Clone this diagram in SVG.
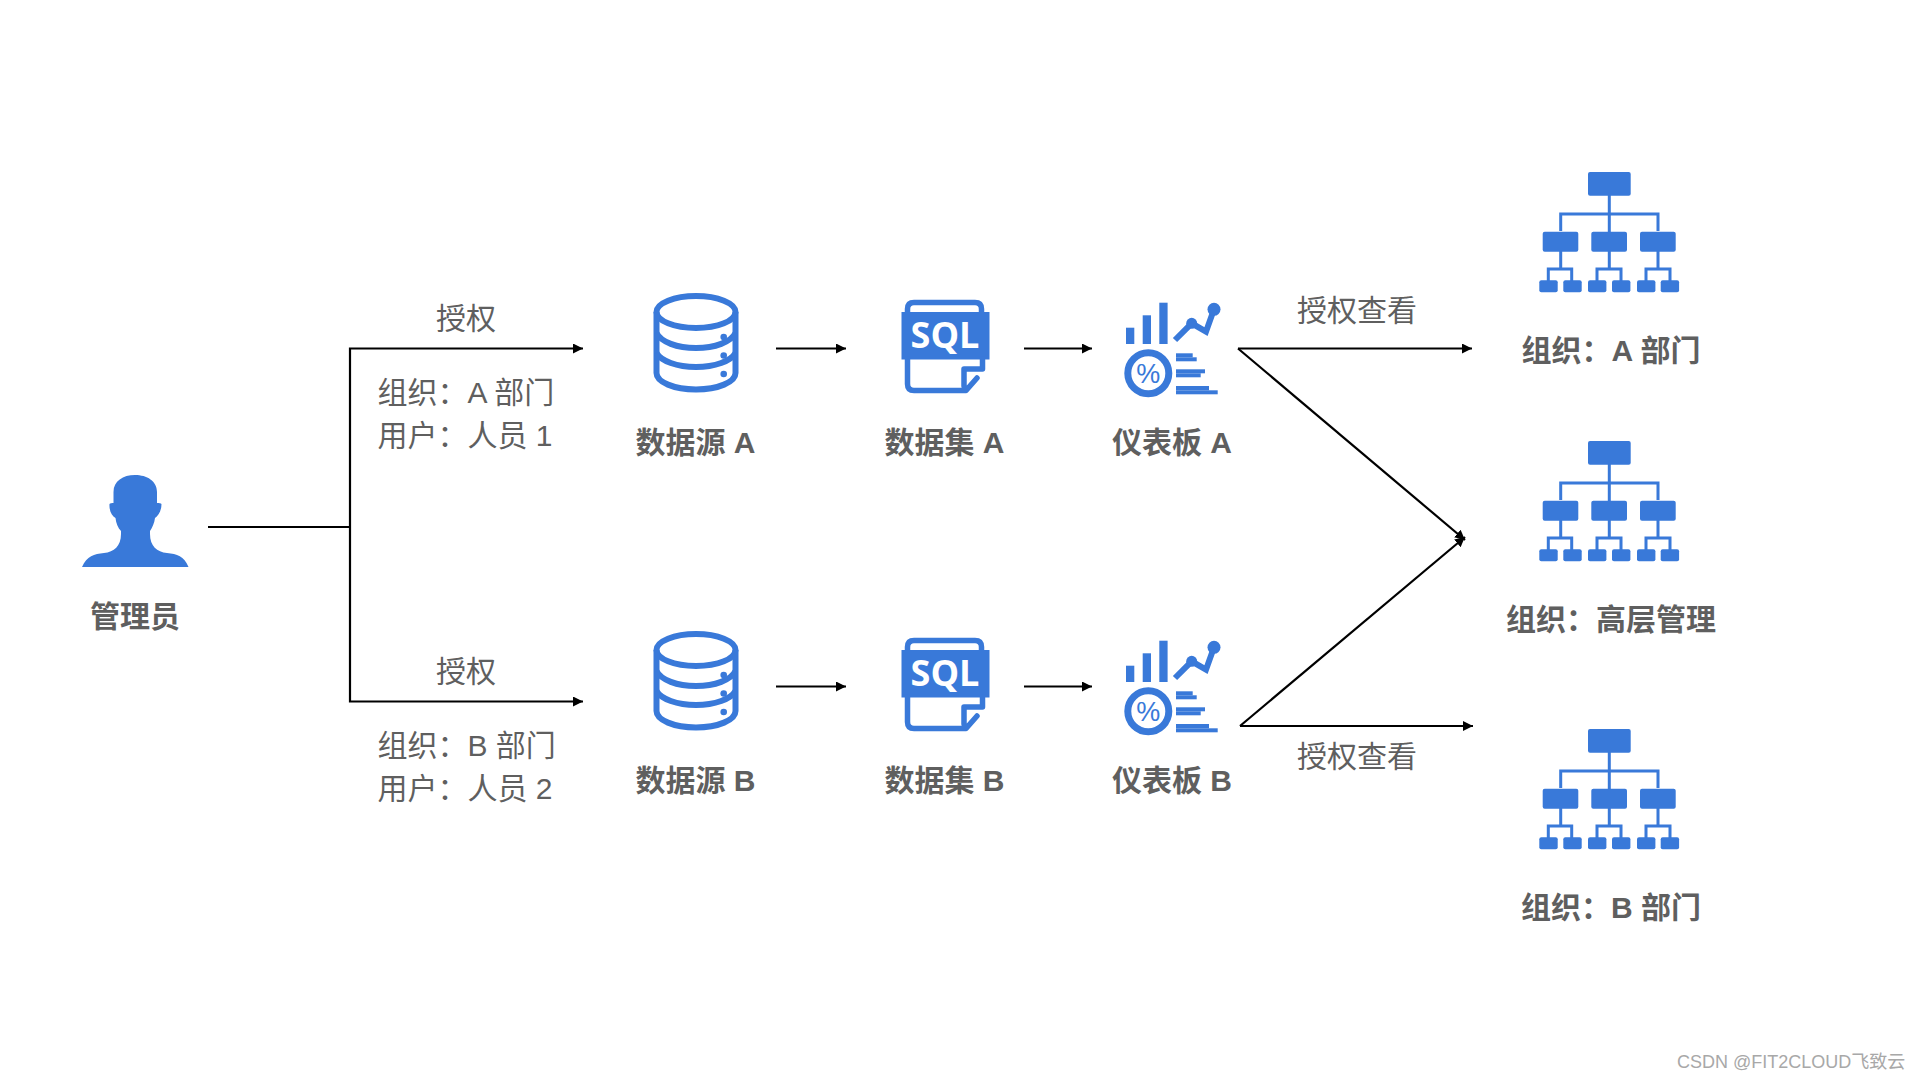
<svg xmlns="http://www.w3.org/2000/svg" width="1920" height="1080" viewBox="0 0 1920 1080">
<style>
text{font-family:"Liberation Sans","Noto Sans CJK SC",sans-serif;fill:#5f5f5f;font-size:30px}
.b{font-weight:700;text-anchor:middle}
.m{text-anchor:middle}
.c{fill:none;stroke:#000;stroke-width:2.2;marker-end:url(#arr)}
.n{fill:none;stroke:#000;stroke-width:2.2}
.f{fill:#3979d9}
.s{fill:none;stroke:#3979d9}
.wm{font-family:"Liberation Sans","Noto Sans CJK SC",sans-serif;font-size:18px;fill:#a8a8a8}
</style>
<defs>
<marker id="arr" markerUnits="userSpaceOnUse" markerWidth="11" markerHeight="10" refX="10" refY="5" orient="auto"><path d="M0 0L10 5L0 10Z" fill="#000"/></marker>
<g id="db">
<g class="s" stroke-width="6">
<ellipse cx="696" cy="312" rx="39.500" ry="16"/>
<path d="M656.500 312V373C656.500 382 674 389.500 696 389.500C718 389.500 735.500 382 735.500 373V312"/>
<path d="M656.500 333C661 342 677 348 696 348C715 348 731 342 735.500 333"/>
<path d="M656.500 353C661 361 677 367 696 367C715 367 731 361 735.500 353"/>
</g>
<circle class="f" cx="723.700" cy="337" r="3.300"/><circle class="f" cx="723.700" cy="355.500" r="3.300"/><circle class="f" cx="723.700" cy="374" r="3.300"/>
</g>
<g id="sql">
<path class="s" stroke-width="5.500" d="M907.500 312V309Q907.500 302.500 914 302.500H975Q981.500 302.500 981.500 309V312"/>
<rect class="f" x="901.500" y="312" width="88" height="47.500"/>
<path class="s" stroke-width="5.500" stroke-linecap="round" stroke-linejoin="round" d="M907.500 359V384Q907.500 390.500 914 390.500H966L977 378M982.500 359V369H964V386"/>
<text x="945" y="348" text-anchor="middle" style="font-family:'Open Sans','Liberation Sans',sans-serif;font-weight:700;font-size:36px;fill:#fff">SQL</text>
</g>
<g id="dash">
<rect class="f" x="1126" y="327.700" width="8.300" height="16.300"/><rect class="f" x="1142.700" y="315.300" width="8.300" height="28.700"/><rect class="f" x="1159.300" y="302.700" width="8.300" height="41.300"/>
<path class="s" stroke-width="6" d="M1175 340L1191.700 323.300L1206 331.700L1214 309.300"/>
<circle class="f" cx="1191.700" cy="323.300" r="5.500"/><circle class="f" cx="1214" cy="309.300" r="6.500"/>
<circle class="s" stroke-width="7" cx="1148.300" cy="373.300" r="20.500"/>
<text x="1148.300" y="383" text-anchor="middle" style="font-family:'Liberation Sans',sans-serif;font-size:27px;fill:#3979d9">%</text>
<rect class="f" x="1176" y="353.300" width="16.700" height="4"/><rect class="f" x="1176" y="357.300" width="20.700" height="4"/>
<rect class="f" x="1176" y="369.300" width="29" height="4"/><rect class="f" x="1176" y="373.300" width="24.700" height="4"/>
<rect class="f" x="1176" y="386" width="33" height="4.300"/><rect class="f" x="1176" y="390.300" width="41.700" height="4"/>
</g>
<g id="org">
<path class="s" stroke-width="3" d="M1609.300 195V232M1560.700 231V214H1658V231M1560.700 251V269M1609.300 251V269M1658 251V269M1548.300 281V269H1571.700V281M1597 281V269H1621V281M1646 281V269H1670V281"/>
<rect class="f" x="1588" y="172" width="42.700" height="23.700" rx="2"/>
<rect class="f" x="1542.700" y="231.700" width="35.600" height="20" rx="2"/><rect class="f" x="1591.300" y="231.700" width="35.700" height="20" rx="2"/><rect class="f" x="1640" y="231.700" width="35.700" height="20" rx="2"/>
<rect class="f" x="1539.300" y="280.300" width="18.400" height="12" rx="2"/><rect class="f" x="1563.300" y="280.300" width="18.400" height="12" rx="2"/>
<rect class="f" x="1588" y="280.300" width="18.400" height="12" rx="2"/><rect class="f" x="1612" y="280.300" width="18.400" height="12" rx="2"/>
<rect class="f" x="1637" y="280.300" width="18.400" height="12" rx="2"/><rect class="f" x="1660.700" y="280.300" width="18.400" height="12" rx="2"/>
</g>
</defs>
<rect width="1920" height="1080" fill="#fff"/>
<g id="connectors">
<path class="n" d="M208 527H350"/>
<path class="c" d="M350 527V348.500H583"/>
<path class="c" d="M350 527V701.500H583"/>
<path class="c" d="M776 348.500H846"/>
<path class="c" d="M1024 348.500H1092"/>
<path class="c" d="M776 686.500H846"/>
<path class="c" d="M1024 686.500H1092"/>
<path class="c" d="M1238 348.500H1472"/>
<path class="c" d="M1238 348.500L1465 540"/>
<path class="c" d="M1240 726H1473"/>
<path class="c" d="M1240 726L1465 537"/>
</g>
<g id="admin">
<path class="f" d="M82 567C87 556 94 554 104 553C114 552 121 546 121 534V531C118 528 116 523 115.500 518C112 516 109 511 109.500 504C110 503 112 503 113.500 503V492C113.500 481 123 475 135 475C147 475 157 481 157 492V503C159 503 161 503 161.500 504C161.500 511 158 516 155 518C154.500 523 152 528 150 531V534C150 546 157 552 167 553C177 554 184 556 188.500 567Z"/>
<text class="b" x="135" y="627">管理员</text>
</g>
<g id="grant-a"><text class="m" x="466" y="329">授权</text><text x="377.500" y="403">组织：A 部门</text><text x="377.500" y="446">用户：人员 1</text></g>
<g id="grant-b"><text class="m" x="466" y="682">授权</text><text x="377.500" y="756">组织：B 部门</text><text x="377.500" y="799">用户：人员 2</text></g>
<g id="source-a"><use href="#db"/><text class="b" x="695.500" y="453">数据源 A</text></g>
<g id="dataset-a"><use href="#sql"/><text class="b" x="944.500" y="453">数据集 A</text></g>
<g id="board-a"><use href="#dash"/><text class="b" x="1172" y="453">仪表板 A</text></g>
<g id="source-b"><use href="#db" y="338"/><text class="b" x="695.500" y="791">数据源 B</text></g>
<g id="dataset-b"><use href="#sql" y="338"/><text class="b" x="944.500" y="791">数据集 B</text></g>
<g id="board-b"><use href="#dash" y="338"/><text class="b" x="1172" y="791">仪表板 B</text></g>
<g id="view-a"><text class="m" x="1357" y="321">授权查看</text></g>
<g id="view-b"><text class="m" x="1357" y="767">授权查看</text></g>
<g id="org-a"><use href="#org"/><text class="b" x="1611" y="361">组织：A 部门</text></g>
<g id="org-top"><use href="#org" y="269"/><text class="b" x="1611" y="630">组织：高层管理</text></g>
<g id="org-b"><use href="#org" y="557"/><text class="b" x="1611" y="918">组织：B 部门</text></g>
<text class="wm" x="1677" y="1068">CSDN @FIT2CLOUD飞致云</text>
</svg>
